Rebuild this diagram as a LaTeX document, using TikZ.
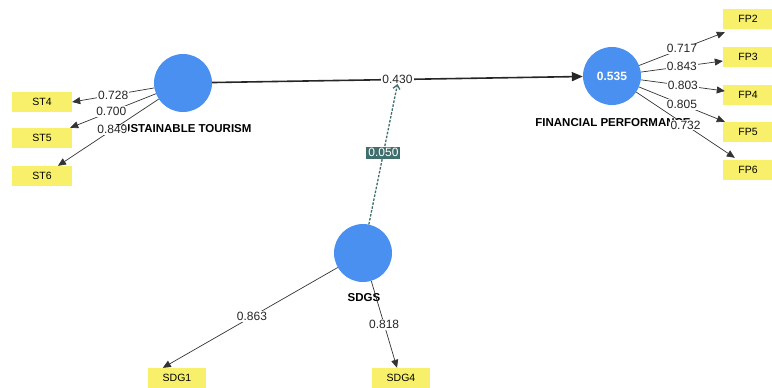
\documentclass[tikz,border=0pt]{standalone}
\usepackage{fontspec}
\setmainfont{Liberation Sans}
\usetikzlibrary{arrows.meta}
\definecolor{lvblue}{HTML}{4A90F0}
\definecolor{indyel}{HTML}{F8F06A}
\definecolor{pathbox}{HTML}{3F6E6C}
\tikzset{
  latent/.style={circle, fill=lvblue, minimum size=58pt, inner sep=0pt, text=white, font=\bfseries\fontsize{12}{14}\selectfont},
  indicator/.style={fill=indyel, minimum width=58pt, minimum height=20pt, inner sep=0pt, font=\fontsize{10.5}{12}\selectfont},
  lvname/.style={font=\bfseries\fontsize{11.5}{13}\selectfont},
  loadarrow/.style={draw=black!80, line width=0.7pt, -{Triangle[length=8pt,width=7pt]}},
  loadlabel/.style={fill=white, inner sep=1pt, font=\fontsize{12}{14}\selectfont, text=black!85},
  pathline/.style={draw=black!85, line width=1.6pt, -{Triangle[length=11pt,width=9pt]}},
  modline/.style={draw=pathbox, line width=1.3pt, dash pattern=on 2.5pt off 1.5pt, -{Straight Barb[length=4pt,width=7pt]}},
  modlabel/.style={fill=pathbox, text=white, inner sep=2pt, font=\fontsize{12}{14}\selectfont},
}
\begin{document}
\begin{tikzpicture}[x=1pt, y=-1pt]
\useasboundingbox (0,0) rectangle (772,388);
% latent variables
\node[latent] (st) at (183,83) {};
\node[latent] (fp) at (612,76) {0.535};
\node[latent] (sdg) at (363,253) {};
\node[lvname] (stl) at (183,129) {SUSTAINABLE TOURISM};
\node[lvname] (fpl) at (613,123) {FINANCIAL PERFORMANCE};
\node[lvname] (sdgl) at (364,298) {SDGS};
% indicators
\node[indicator, minimum width=60pt] (st4) at (42,102) {ST4};
\node[indicator, minimum width=60pt] (st5) at (42,138) {ST5};
\node[indicator, minimum width=60pt] (st6) at (42,176) {ST6};
\node[indicator, minimum width=50pt] (fp2) at (748,19) {FP2};
\node[indicator, minimum width=50pt] (fp3) at (748,57) {FP3};
\node[indicator, minimum width=50pt] (fp4) at (748,95) {FP4};
\node[indicator, minimum width=50pt] (fp5) at (748,132) {FP5};
\node[indicator, minimum width=50pt] (fp6) at (748,170) {FP6};
\node[indicator, minimum width=58pt] (sdg1) at (177,378) {SDG1};
\node[indicator, minimum width=58pt] (sdg4) at (401,378) {SDG4};
% loadings
\draw[loadarrow] (st) -- (st4.east) node[loadlabel, midway] (l1) {0.728};
\draw[loadarrow] (st) -- ([xshift=-2pt]st5.north east) node[loadlabel, pos=0.52] (l2) {0.700};
\draw[loadarrow] (st) -- ([xshift=16pt]st6.north) node[loadlabel, pos=0.46] (l3) {0.849};
\draw[loadarrow] (fp) -- ([xshift=2pt,yshift=-3pt]fp2.south west) node[loadlabel, midway] (l4) {0.717};
\draw[loadarrow] (fp) -- ([yshift=-4pt]fp3.west) node[loadlabel, midway] (l5) {0.843};
\draw[loadarrow] (fp) -- ([xshift=2pt,yshift=4pt]fp4.west) node[loadlabel, midway] (l6) {0.803};
\draw[loadarrow] (fp) -- ([xshift=2pt]fp5.north west) node[loadlabel, midway] (l7) {0.805};
\draw[loadarrow] (fp) -- ([xshift=12pt,yshift=2pt]fp6.north west) node[loadlabel, midway] (l8) {0.732};
\draw[loadarrow] (sdg) -- ([xshift=15pt]sdg1.north west) node[loadlabel, pos=0.49] (l9) {0.863};
\draw[loadarrow] (sdg) -- ([xshift=-4pt]sdg4.north) node[loadlabel, midway] (l10) {0.818};
% structural path
\draw[pathline] (st) -- (fp) node[loadlabel, midway, inner sep=1.5pt] (p1) {0.430};
% moderating path
\draw[modline] (sdg) -- ([yshift=2pt]p1.south) node[modlabel, pos=0.51] (p2) {0.050};
\end{tikzpicture}
\end{document}
